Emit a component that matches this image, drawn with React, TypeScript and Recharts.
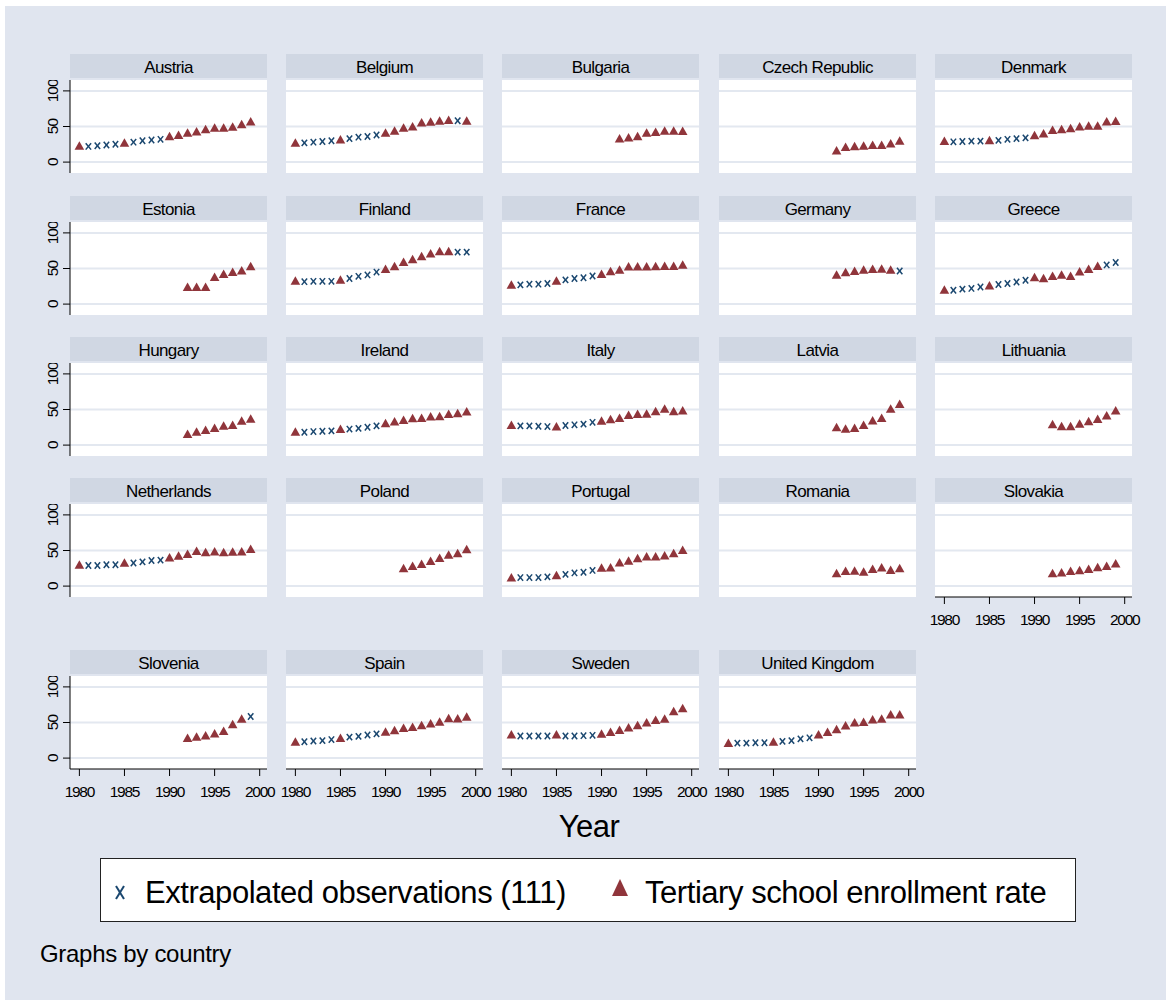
import React from "react";
import { ScatterChart, Scatter, XAxis, YAxis, ReferenceLine } from "recharts";

const years = [
  1980, 1981, 1982, 1983, 1984, 1985, 1986, 1987, 1988, 1989,
  1990, 1991, 1992, 1993, 1994, 1995, 1996, 1997, 1998, 1999,
];

const countries = [
  "Austria", "Belgium", "Bulgaria", "Czech Republic", "Denmark",
  "Estonia", "Finland", "France", "Germany", "Greece",
  "Hungary", "Ireland", "Italy", "Latvia", "Lithuania",
  "Netherlands", "Poland", "Portugal", "Romania", "Slovakia",
  "Slovenia", "Spain", "Sweden", "United Kingdom",
];

const _ = null;
// enrollment rate by year (1980-1999), null = no observation
const rates: (number | null)[][] = [
  [23, 22, 23, 24, 25, 27, 28, 30, 31, 32, 36, 38, 41, 43, 46, 48, 48, 49.5, 53, 57],
  [27, 27, 28, 29, 30, 31.5, 33, 35, 36, 38, 41, 44, 48, 50, 55.5, 56.5, 58, 59, 58, 58],
  [_, _, _, _, _, _, _, _, _, _, _, _, 33, 34.5, 36, 41, 42, 44, 44, 43.5],
  [_, _, _, _, _, _, _, _, _, _, _, _, 16, 21, 22, 23, 24, 24, 26, 30],
  [29.5, 28.5, 29, 29.5, 29.5, 30.5, 30.5, 32, 33, 34, 37.5, 40, 45, 46, 47.5, 50, 51, 51, 57, 57.5],
  [_, _, _, _, _, _, _, _, _, _, _, _, 24, 24, 24, 38, 42, 45, 47, 53],
  [32.5, 31.5, 32, 32, 32, 34, 36, 39, 41, 45, 49, 53, 59, 63, 67, 71, 74, 74, 73, 73],
  [27, 27, 28, 28, 29, 32.5, 34, 36, 37, 39.5, 42, 46, 48, 52.5, 52.5, 52.5, 53, 53.5, 53.5, 55],
  [_, _, _, _, _, _, _, _, _, _, _, _, 41, 44.5, 46.5, 48, 49, 49.5, 48, 46.5],
  [20, 19.5, 21, 22, 24, 26, 27.5, 29, 31, 33.5, 37.5, 36, 39.5, 41, 39.5, 45.5, 49, 53.5, 55, 58.5],
  [_, _, _, _, _, _, _, _, _, _, _, _, 15.5, 18.5, 21, 24, 27, 28, 34, 37],
  [18.5, 18, 19, 19.5, 20, 22.5, 22.5, 23.5, 25, 27, 30.5, 33, 35, 37.5, 38, 40, 40.5, 43.5, 44.5, 47],
  [28, 27, 27, 26.5, 26, 26, 27.5, 28.5, 29.5, 32, 34, 36, 38, 42, 43.5, 44, 47.5, 51, 47.5, 48.5],
  [_, _, _, _, _, _, _, _, _, _, _, _, 25, 23, 24, 28, 34.5, 38, 51, 57.5],
  [_, _, _, _, _, _, _, _, _, _, _, _, 29, 26.5, 26.5, 30, 33.5, 36.5, 41.5, 48.5],
  [30, 29, 29, 30, 30, 32.5, 32.5, 34, 36, 36.5, 40, 42.5, 45, 49, 47.5, 48.5, 47.5, 48, 48.5, 52],
  [_, _, _, _, _, _, _, _, _, _, _, _, 25, 28, 31, 35, 39.5, 44, 46, 51.5],
  [12, 12, 12, 12, 13, 15, 16.5, 18.5, 19.5, 22, 25.5, 26, 33, 35.5, 39, 41.5, 41.5, 43, 46, 50.5],
  [_, _, _, _, _, _, _, _, _, _, _, _, 18, 21, 21.5, 20, 24, 26, 22.5, 25],
  [_, _, _, _, _, _, _, _, _, _, _, _, 18, 19, 21, 22, 24, 26.5, 28, 31.5],
  [_, _, _, _, _, _, _, _, _, _, _, _, 28, 30, 31.5, 34.5, 38, 47.5, 55, 58.5],
  [23, 23, 24, 24.5, 26, 28, 29.5, 30.5, 32.5, 34, 37, 39, 42, 43.5, 46, 48.5, 51, 56, 55.5, 58],
  [33, 31, 31, 31, 31, 33, 31, 31, 31.5, 32, 34, 36.5, 39.5, 43, 46, 50, 53.5, 55, 65.5, 70],
  [21, 21, 21, 21.5, 21.5, 23, 23.5, 24.5, 27, 28.5, 33, 36.5, 40.5, 45.5, 50, 50.5, 54, 55, 61, 61],
];

// T = observed, X = extrapolated, . = none
const kinds = [
  "TXXXXTXXXXTTTTTTTTTT", "TXXXXTXXXXTTTTTTTTXT", "............TTTTTTTT", "............TTTTTTTT", "TXXXXTXXXXTTTTTTTTTT",
  "............TTTTTTTT", "TXXXXTXXXXTTTTTTTTXX", "TXXXXTXXXXTTTTTTTTTT", "............TTTTTTTX", "TXXXXTXXXXTTTTTTTTXX",
  "............TTTTTTTT", "TXXXXTXXXXTTTTTTTTTT", "TXXXXTXXXXTTTTTTTTTT", "............TTTTTTTT", "............TTTTTTTT",
  "TXXXXTXXXXTTTTTTTTTT", "............TTTTTTTT", "TXXXXTXXXXTTTTTTTTTT", "............TTTTTTTT", "............TTTTTTTT",
  "............TTTTTTTX", "TXXXXTXXXXTTTTTTTTTT", "TXXXXTXXXXTTTTTTTTTT", "TXXXXTXXXXTTTTTTTTTT",
];

const xTicks = [1980, 1985, 1990, 1995, 2000];
const yTicks = [0, 50, 100];

const NAVY = "#1a476f";
const MAROON = "#90353b";
const BG = "#e0e5ef";
const HEADER = "#d0d7e3";
const GRID = "#e3e8f0";
const FONT = "'Liberation Sans', Arial, sans-serif";

// layout
const colLeft = [70, 286, 502, 719, 935];
const rowTop = [54, 196, 337, 478, 650];
const PW = 197;
const PH = 93;
const HH = 24;
const YW = 40;
const XH = 32;
const PAD = 18; // room so edge tick labels are not clipped

const Tri = (p: any) => {
  const { cx, cy } = p;
  if (cx == null || cy == null) return <g />;
  return (
    <polygon
      points={`${cx},${cy - 4.6} ${cx - 4.8},${cy + 3.9} ${cx + 4.8},${cy + 3.9}`}
      fill={MAROON}
    />
  );
};

const Cross = (p: any) => {
  const { cx, cy } = p;
  if (cx == null || cy == null) return <g />;
  return (
    <g stroke={NAVY} strokeWidth={1.5}>
      <line x1={cx - 2.7} y1={cy - 3.2} x2={cx + 2.7} y2={cy + 3.2} />
      <line x1={cx + 2.7} y1={cy - 3.2} x2={cx - 2.7} y2={cy + 3.2} />
    </g>
  );
};

const XTick = (p: any) => (
  <text x={p.x} y={p.y + 19} textAnchor="middle" fontSize={15.5} letterSpacing={-1.3} fill="#000" fontFamily={FONT}>
    {p.payload.value}
  </text>
);

const YTick = (p: any) => (
  <text
    x={p.x - 3}
    y={p.y}
    transform={`rotate(-90 ${p.x - 3} ${p.y})`}
    textAnchor="middle"
    fontSize={15.5}
    letterSpacing={-1}
    fill="#000"
    fontFamily={FONT}
  >
    {p.payload.value}
  </text>
);

const Panel = ({ idx }: { idx: number }) => {
  const row = Math.floor(idx / 5);
  const col = idx % 5;
  const showY = col === 0;
  const showX = row === 4 || idx === 19;
  const points = years.map((year, i) => ({ year, v: rates[idx][i], k: kinds[idx][i] }));
  const actual = points.filter((d) => d.k === "T");
  const extra = points.filter((d) => d.k === "X");
  const top = rowTop[row] + HH + 2;
  const padL = showY ? 0 : PAD;
  const axisW = showY ? YW : 0;
  return (
    <div
      style={{
        position: "absolute",
        left: colLeft[col] - axisW - padL,
        top,
      }}
    >
      <ScatterChart
        width={PW + axisW + padL + PAD}
        height={PH + (showX ? XH : 0)}
        margin={{ top: 0, right: PAD, bottom: 0, left: padL }}
      >
        <XAxis
          type="number"
          dataKey="year"
          domain={[1978.96, 2000.81]}
          ticks={xTicks}
          interval={0}
          allowDataOverflow
          hide={!showX}
          height={XH}
          tickSize={7}
          tickMargin={2}
          tick={<XTick />}
          axisLine={{ stroke: "#000" }}
          tickLine={{ stroke: "#000" }}
        />
        <YAxis
          type="number"
          dataKey="v"
          domain={[-15.3, 115.3]}
          ticks={yTicks}
          interval={0}
          allowDataOverflow
          hide={!showY}
          width={YW}
          tickSize={7}
          tickMargin={2}
          tick={<YTick />}
          axisLine={{ stroke: "#000" }}
          tickLine={{ stroke: "#000" }}
        />
        {yTicks.map((t) => (
          <ReferenceLine key={t} y={t} stroke={GRID} strokeWidth={2} />
        ))}
        <Scatter data={extra} shape={<Cross />} isAnimationActive={false} />
        <Scatter data={actual} shape={<Tri />} isAnimationActive={false} />
      </ScatterChart>
    </div>
  );
};

const App = () => {
  return (
    <div style={{ position: "relative", width: 1172, height: 1005, background: "#fff", fontFamily: FONT }}>
      <style>{"body{margin:0}"}</style>
      <svg width={1172} height={1005} style={{ position: "absolute", left: 0, top: 0 }}>
        <rect x={5} y={6} width={1161} height={994} fill={BG} />
        {countries.map((name, i) => {
          const row = Math.floor(i / 5);
          const col = i % 5;
          return (
            <g key={name}>
              <rect x={colLeft[col]} y={rowTop[row]} width={PW} height={HH} fill={HEADER} />
              <rect x={colLeft[col]} y={rowTop[row] + HH + 2} width={PW} height={PH} fill="#fff" />
              <text
                x={colLeft[col] + PW / 2}
                y={rowTop[row] + 18.5}
                textAnchor="middle"
                fontSize={17}
                letterSpacing={-0.6}
                fontFamily={FONT}
                fill="#000"
              >
                {name}
              </text>
            </g>
          );
        })}
        <text x={589} y={837} textAnchor="middle" fontSize={31} letterSpacing={-0.5} fontFamily={FONT} fill="#000">
          Year
        </text>
        <rect x={100.5} y={858.5} width={975} height={63} fill="#fff" stroke="#222" strokeWidth={1} />
        <g stroke={NAVY} strokeWidth={2}>
          <line x1={116} y1={886} x2={124} y2={899} />
          <line x1={124} y1={886} x2={116} y2={899} />
        </g>
        <text x={145} y={903} fontSize={31} letterSpacing={-0.45} fontFamily={FONT} fill="#000">
          Extrapolated observations (111)
        </text>
        <polygon points="620,879 612,896 628,896" fill={MAROON} />
        <text x={645} y={903} fontSize={31} letterSpacing={-0.45} fontFamily={FONT} fill="#000">
          Tertiary school enrollment rate
        </text>
        <text x={40} y={962} fontSize={24} letterSpacing={-0.3} fontFamily={FONT} fill="#000">
          Graphs by country
        </text>
      </svg>
      {countries.map((name, i) => (
        <Panel key={name} idx={i} />
      ))}
    </div>
  );
};

export default App;
